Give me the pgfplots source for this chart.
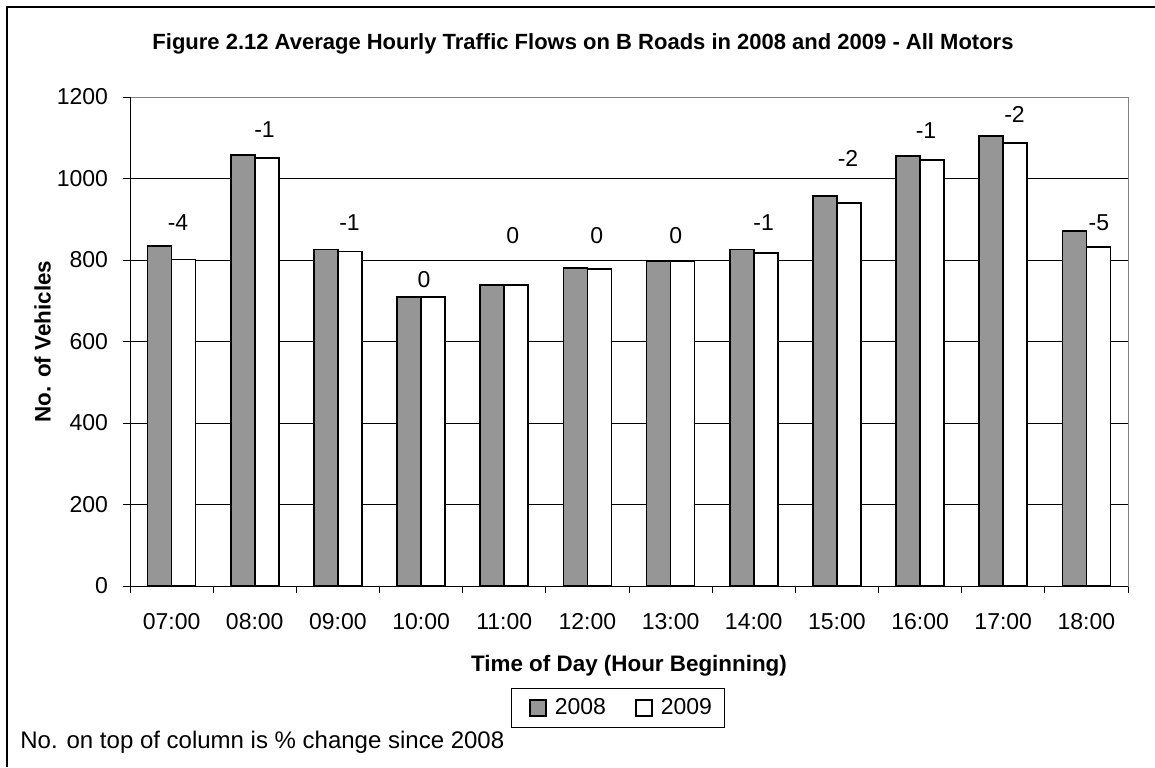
\documentclass[border=0pt]{standalone}
\usepackage{fontspec}
\setmainfont{Liberation Sans}
\usepackage{pgfplots}
\pgfplotsset{compat=1.18}
\usepackage{pgfplotstable}
\definecolor{bargray}{RGB}{150,150,150}
\definecolor{framegray}{RGB}{128,128,128}

\pgfplotstableread{
idx v2008 v2009
0 834 801
1 1057 1051
2 826 821
3 710 710
4 738 738
5 780 777
6 798 797
7 826 817
8 957 940
9 1055 1046
10 1105 1087
11 872 831
}\flows

\pgfplotstableread{
x y label
0.077 891 -4
1.117 1119 -1
2.139 891 -1
3.034 753 0
4.101 861 0
5.111 861 0
6.061 861 0
7.119 892 -1
8.133 1049 -2
9.071 1117 -1
10.135 1156 -2
11.150 892 -5
}\pct

\newcommand{\cfont}{\fontsize{11.2}{13}\selectfont}

\begin{document}
\begin{tikzpicture}[font=\cfont]
\path[use as bounding box] (0,0) rectangle (577.5pt,383.5pt);
\draw[black, line width=1pt] (3.5pt,0pt) -- (3.5pt,380pt) -- (577.5pt,380pt);
\node[font=\fontsize{11}{13}\selectfont\bfseries, anchor=base] at (291.5pt,358.5pt)
  {Figure 2.12 Average Hourly Traffic Flows on B Roads in 2008 and 2009 - All Motors};
\node[anchor=base west, inner sep=0pt, font=\fontsize{12}{14}\selectfont] at (10pt,9.5pt) {No. on top of column is \% change since 2008};
\begin{axis}[
  at={(65pt,90.5pt)}, anchor=south west,
  scale only axis, width=499pt, height=244.5pt,
  xmin=-0.5, xmax=11.5, ymin=0, ymax=1200,
  xtick={-0.5,0.5,...,11.5}, xticklabels={},
  extra x ticks={0,1,...,11},
  extra x tick labels={07:00,08:00,09:00,10:00,11:00,12:00,13:00,14:00,15:00,16:00,17:00,18:00},
  extra x tick style={major tick length=0pt, grid=none},
  ytick={0,200,...,1000},
  extra y ticks={1200}, extra y tick style={grid=none},
  ymajorgrids, major grid style={black, line width=0.5pt},
  tick align=outside, tick pos=left,
  major tick length=3.5pt,
  tick style={black, line width=0.5pt},
  axis line style={framegray, line width=0.5pt},
  scaled y ticks=false,
  /pgf/number format/assume math mode=true,
  /pgf/number format/1000 sep={},
  ticklabel style={font=\fontsize{11.5}{13}\selectfont},
  xticklabel style={yshift=-10pt},
  yticklabel style={xshift=-4pt},
  xlabel={Time of Day (Hour Beginning)},
  ylabel={No. of Vehicles},
  xlabel style={font=\cfont\bfseries, at={(axis description cs:0.5,0)}, anchor=base, yshift=-42.5pt},
  ylabel style={font=\cfont\bfseries, at={(axis description cs:-0.0875,0.5)}, anchor=center},
  legend style={at={(0.489,-0.2495)}, anchor=center, legend columns=2,
    draw=black, line width=0.5pt, font=\fontsize{11.5}{13}\selectfont,
    inner xsep=4.5pt, inner ysep=2.75pt,
    /tikz/every even column/.append style={column sep=8pt}},
  legend image code/.code={\path (0pt,0pt) (14.5pt,0pt);
    \draw[#1, line width=0.6pt] (4.5pt,-4pt) rectangle (12.5pt,4pt);},
  after end axis/.code={
    \draw[black, line width=0.5pt] (rel axis cs:0,1) -- (rel axis cs:0,0) -- (rel axis cs:1,0);
  },
]
\addplot[ybar, bar width=12pt, bar shift=-6pt, fill=bargray, draw=black, line width=0.9pt]
  table[x=idx, y=v2008] {\flows};
\addplot[ybar, bar width=12pt, bar shift=6pt, fill=white, draw=black, line width=0.9pt]
  table[x=idx, y=v2009] {\flows};
\legend{2008,2009}
\addplot[forget plot, draw=none, mark=none, nodes near coords, point meta=explicit symbolic,
  nodes near coords style={anchor=center, font=\fontsize{11.5}{13}\selectfont, inner sep=0pt}]
  table[x=x, y=y, meta=label] {\pct};
\end{axis}
\end{tikzpicture}
\end{document}
